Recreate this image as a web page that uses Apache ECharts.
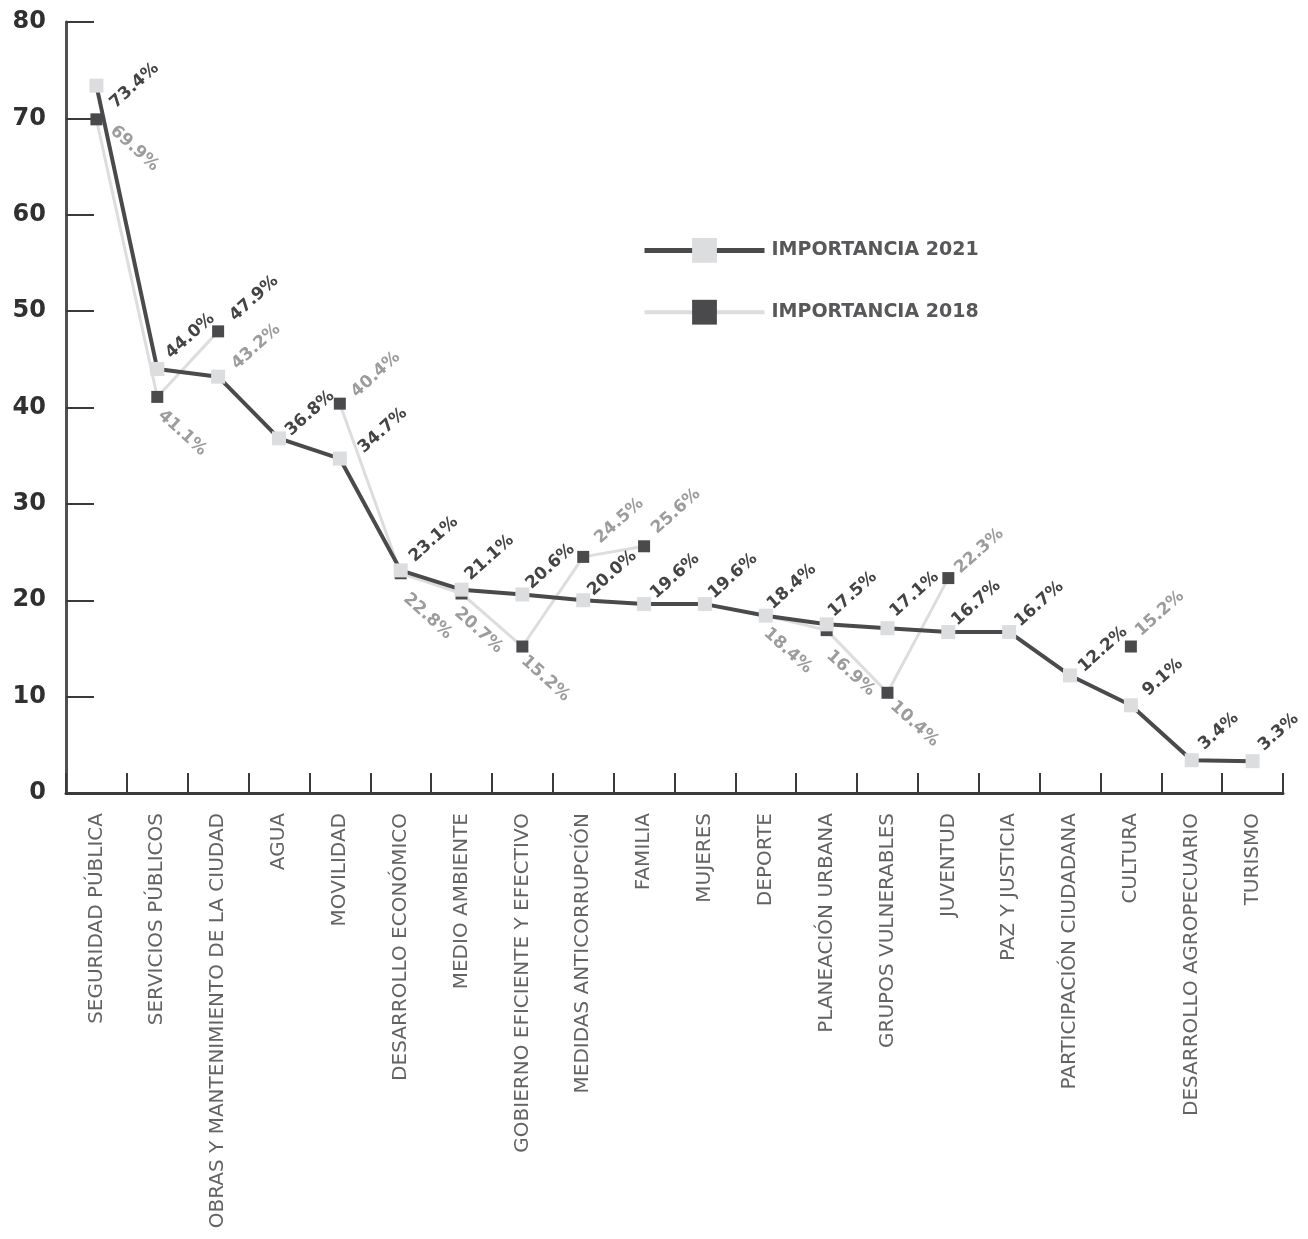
<!DOCTYPE html>
<html>
<head>
<meta charset="utf-8">
<script src="https://cdn.jsdelivr.net/npm/echarts@6/dist/echarts.min.js"></script>
<style>
  html, body { margin: 0; padding: 0; background: #ffffff; }
  #chart { width: 1308px; height: 1239px; }
</style>
</head>
<body>
<div id="chart"></div>
<script>
// ---- data ----
const categories = [
  'SEGURIDAD PÚBLICA', 'SERVICIOS PÚBLICOS', 'OBRAS Y MANTENIMIENTO DE LA CIUDAD', 'AGUA',
  'MOVILIDAD', 'DESARROLLO ECONÓMICO', 'MEDIO AMBIENTE', 'GOBIERNO EFICIENTE Y EFECTIVO',
  'MEDIDAS ANTICORRUPCIÓN', 'FAMILIA', 'MUJERES', 'DEPORTE', 'PLANEACIÓN URBANA',
  'GRUPOS VULNERABLES', 'JUVENTUD', 'PAZ Y JUSTICIA', 'PARTICIPACIÓN CIUDADANA',
  'CULTURA', 'DESARROLLO AGROPECUARIO', 'TURISMO'
];
const importancia2021 = [73.4, 44.0, 43.2, 36.8, 34.7, 23.1, 21.1, 20.6, 20.0, 19.6,
                         19.6, 18.4, 17.5, 17.1, 16.7, 16.7, 12.2, 9.1, 3.4, 3.3];
const importancia2018 = [69.9, 41.1, 47.9, null, 40.4, 22.8, 20.7, 15.2, 24.5, 25.6,
                         null, 18.4, 16.9, 10.4, 22.3, null, null, 15.2, null, null];
const yTicks = [0, 10, 20, 30, 40, 50, 60, 70, 80];
const seriesNames = ['IMPORTANCIA 2021', 'IMPORTANCIA 2018'];

// ---- label placement (offset of label centre from its marker, px) ----
const off2021 = [[38,0],[33,-33],[38,-30],[31,-25],[43,-28],[33,-31],[28,-32],[28,-28],[29,-27],[31,-28],
                 [28,-28],[26,-29],[26,-30],[27,-34],[28,-29],[30,-28],[33,-26],[32,-28],[27,-29],[26,-29]];
const off2018 = [[38,29],[25,36],[36,-33],null,[36,-29],[27,43],[17,37],[23,32],[36,-36],[32,-35],
                 null,[22,35],[24,43],[27,31],[31,-27],null,null,[29,-33],null,null];
const swappedLabelColour = [2]; // category whose label colours are swapped in the original

const DARK = '#4a4a4c';
const LIGHT = '#dcdddf';
const LABEL_DARK = '#444446';
const LABEL_GRAY = '#9c9c9e';
const ROT = 42;
const FONT = 'DejaVu Sans';

function layoutFor(offsets) {
  return function (p) {
    const off = offsets[p.dataIndex] || [28, -29];
    const cx = p.rect.x + p.rect.width / 2;
    const cy = p.rect.y + p.rect.height / 2;
    return {
      x: cx + off[0], y: cy + off[1],
      rotate: off[1] > 0 ? -ROT : ROT,
      align: 'center', verticalAlign: 'middle'
    };
  };
}

function buildData(values, baseColour, swapColour) {
  return values.map(function (v, i) {
    if (v === null) return null;
    const c = swappedLabelColour.indexOf(i) >= 0 ? swapColour : baseColour;
    return { value: v, label: { color: c } };
  });
}

const labelBase = {
  show: true,
  fontFamily: FONT,
  fontWeight: 'bold',
  fontSize: 17,
  formatter: function (p) { return Number(p.value).toFixed(1) + '%'; }
};

const chart = echarts.init(document.getElementById('chart'), null, { renderer: 'canvas' });
chart.setOption({
  animation: false,
  backgroundColor: '#ffffff',
  grid: { left: 66, right: 25, top: 22, bottom: 446, containLabel: false },
  legend: {
    data: [
      { name: seriesNames[0], lineStyle: { width: 5 } },
      { name: seriesNames[1], lineStyle: { width: 4 } }
    ],
    orient: 'vertical',
    left: 637, top: 233,
    itemWidth: 120, itemHeight: 31, itemGap: 31 + 6,
    selectedMode: false,
    textStyle: { fontFamily: FONT, fontWeight: 'bold', fontSize: 19, color: '#58585a', padding: [0, 0, 0, 2] }
  },
  xAxis: {
    type: 'category',
    data: categories,
    boundaryGap: true,
    axisLine: { lineStyle: { color: '#3a3a3c', width: 3 } },
    axisTick: { show: true, inside: true, length: 20, lineStyle: { color: '#3a3a3c', width: 2 } },
    axisLabel: { rotate: 90, margin: 20, interval: 0, fontFamily: FONT, fontWeight: 'normal', fontSize: 20, color: '#636365' }
  },
  yAxis: {
    type: 'value',
    min: yTicks[0], max: yTicks[yTicks.length - 1], interval: yTicks[1] - yTicks[0],
    splitLine: { show: false },
    axisLine: { show: true, lineStyle: { color: '#505052', width: 3 } },
    axisTick: { show: true, inside: true, length: 28, lineStyle: { color: '#3a3a3c', width: 2 } },
    axisLabel: { margin: 20, fontFamily: FONT, fontWeight: 'bold', fontSize: 24, color: '#303032' }
  },
  series: [
    {
      name: seriesNames[1],
      type: 'line',
      data: buildData(importancia2018, LABEL_GRAY, LABEL_DARK),
      connectNulls: false,
      symbol: 'rect', symbolSize: 12,
      itemStyle: { color: DARK },
      lineStyle: { color: LIGHT, width: 3 },
      label: Object.assign({}, labelBase, { color: LABEL_GRAY }),
      labelLayout: layoutFor(off2018),
      z: 2
    },
    {
      name: seriesNames[0],
      type: 'line',
      data: buildData(importancia2021, LABEL_DARK, LABEL_GRAY),
      symbol: 'rect', symbolSize: 14,
      itemStyle: { color: LIGHT },
      lineStyle: { color: DARK, width: 4 },
      label: Object.assign({}, labelBase, { color: LABEL_DARK }),
      labelLayout: layoutFor(off2021),
      z: 3
    }
  ]
});
</script>
</body>
</html>
